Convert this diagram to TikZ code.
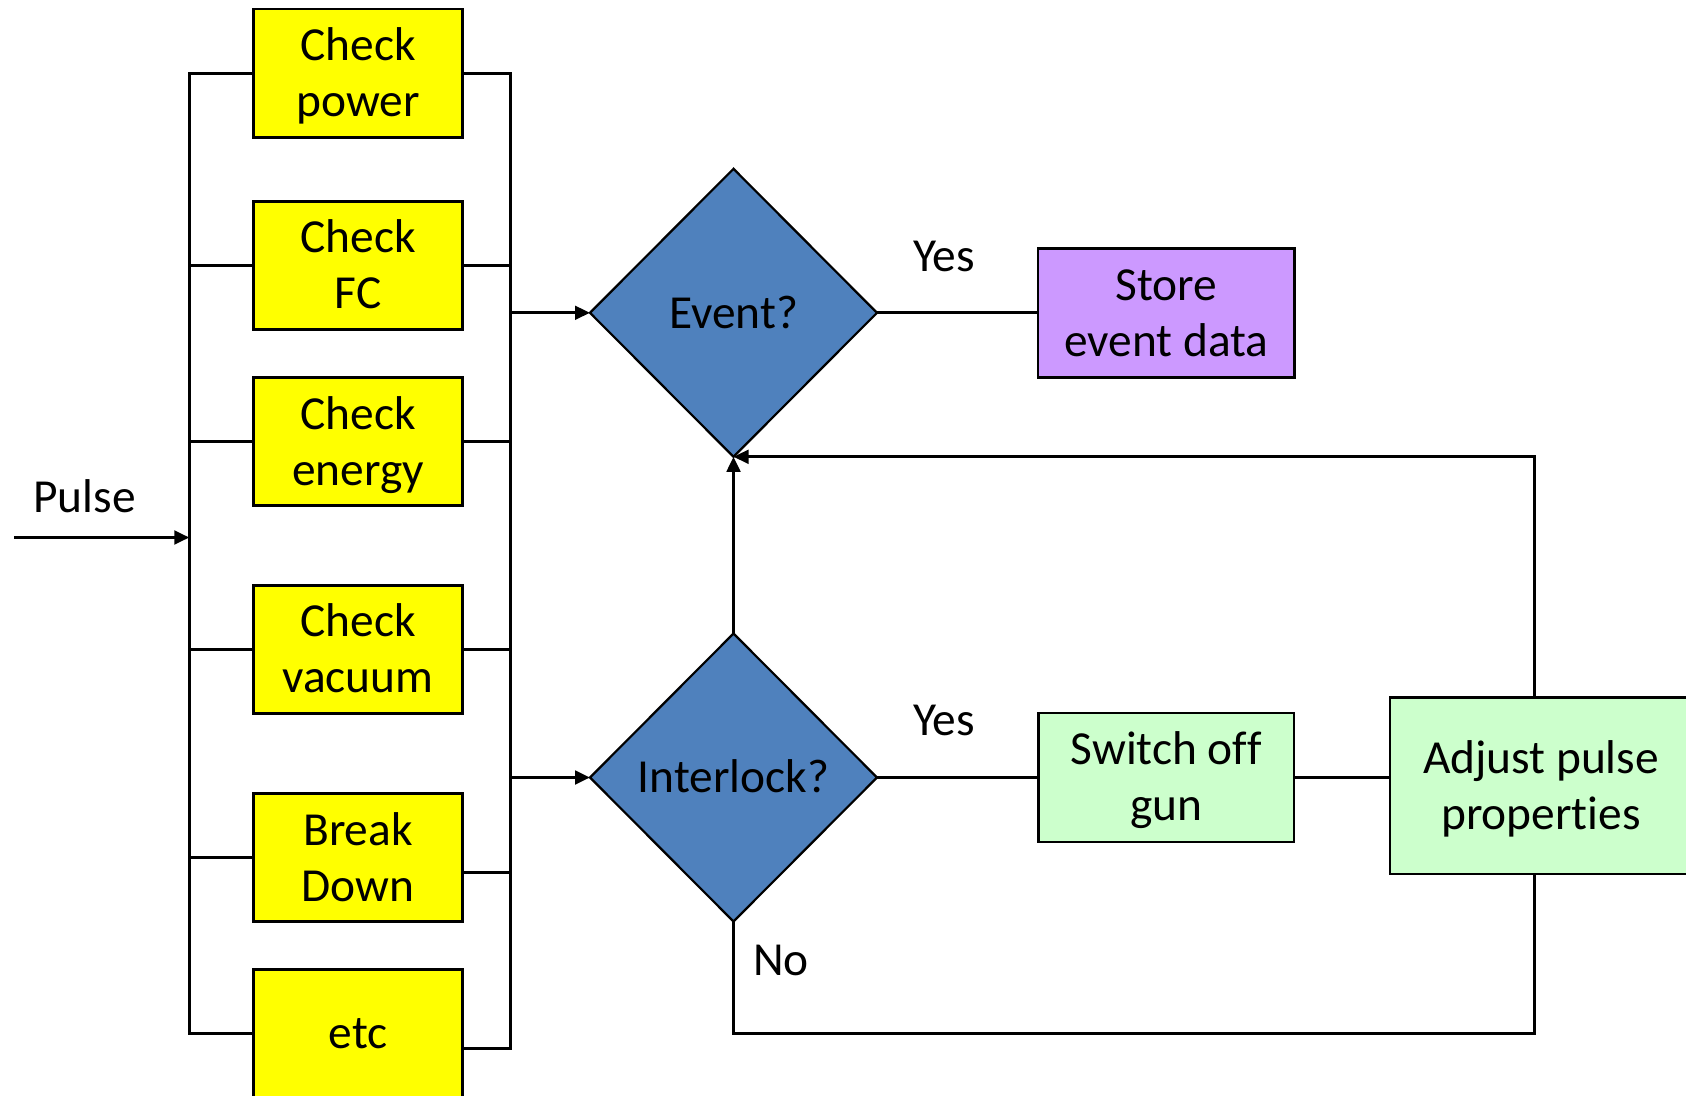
\documentclass[tikz,border=0pt]{standalone}
\usepackage{fontspec}
\setmainfont{Carlito}[Ligatures={NoCommon,NoContextual}]
\usetikzlibrary{shapes.geometric,arrows.meta,calc}
\definecolor{chkyellow}{HTML}{FFFF00}
\definecolor{decblue}{HTML}{4F81BD}
\definecolor{storepurple}{HTML}{CC99FF}
\definecolor{actgreen}{HTML}{CCFFCC}
% line box of one text line (ascent + descent)
\newcommand{\mystrut}{\rule[-6.3pt]{0pt}{28pt}}

\begin{document}
\begin{tikzpicture}[x=0.5pt,y=-0.5pt,
  txt/.style={font=\fontsize{23.7pt}{28pt}\selectfont, inner sep=0pt, outer sep=0pt, align=center},
  box/.style={txt, draw, line width=1.4pt, minimum width=#1},
  chk/.style={box=104.75pt, fill=chkyellow, minimum height=64.25pt},
  dec/.style={txt, shape=diamond, draw, line width=1.1pt, fill=decblue,
              minimum width=143.5pt, minimum height=144pt},
  ln/.style={line width=1.5pt},
  arr/.style={ln, -{Triangle[length=7.5pt,width=6.8pt]}},
  lbl/.style={txt, anchor=base}
]
\useasboundingbox (0,0) rectangle (1686,1096);
\fill[white] (0,0) rectangle (1686,1096);
\clip (0,0) rectangle (1686,1096);

% checks run in parallel
\node[chk] (pw) at (358,73.3)   {\mystrut Check\\\mystrut power};
\node[chk] (fc) at (358,265.5)  {\mystrut Check\\\mystrut FC};
\node[chk] (en) at (358,441.6)  {\mystrut Check\\\mystrut energy};
\node[chk] (va) at (358,649.4)  {\mystrut Check\\\mystrut vacuum};
\node[chk] (bd) at (358,857.6)  {\mystrut Break\\\mystrut Down};
\node[chk] (et) at (358,1033.5) {\mystrut etc};

% decisions
\node[dec] (ev) at (733.5,312.8) {\mystrut Event?};
\node[dec] (il) at (733.5,777.5) {\mystrut Interlock?};

% actions
\node[box=128.25pt, fill=storepurple, minimum height=64.5pt] (st) at (1166.3,312.8)
  {\mystrut Store\\\mystrut event data};
\node[box=127.75pt, fill=actgreen, minimum height=64.5pt] (sw) at (1166.3,777.5)
  {\mystrut Switch of\kern0pt f\\\mystrut gun};
\node[box=151pt, fill=actgreen, minimum height=88.35pt] (adj) at (1541,785.6)
  {\mystrut Adjust pulse\\\mystrut propert\kern0pt ies};

% input and output buses
\coordinate (lbB) at (189.3,1033.5);
\coordinate (rbB) at (510.5,1048.9);
\coordinate (bdR) at ($(bd.east)+(0,15.2)$);
\coordinate (etR) at ($(et.east)+(0,15.4)$);
\draw[ln] (pw.west) -| (lbB) -- (et.west);
\foreach \b in {fc,en,va,bd} \draw[ln] (\b.west) -- (\b.west -| lbB);
\draw[ln] (pw.east) -| (rbB) -- (etR);
\foreach \b in {fc,en,va} \draw[ln] (\b.east) -- (\b.east -| rbB);
\draw[ln] (bdR) -- (bdR -| rbB);

% pulse input
\coordinate (pin) at (14,537.5);
\draw[arr] (pin) -- (pin -| lbB);
\node[lbl] (pl) at (84.5,512.5) {Pulse};

% into the decisions
\draw[arr] (ev.west -| rbB) -- (ev.west);
\draw[arr] (il.west -| rbB) -- (il.west);

% yes branches
\draw[ln] (ev.east) -- (st.west);
\draw[ln] (il.east) -- (sw.west);
\draw[ln] (sw.east) -- (sw.east -| adj.west);
\node[lbl] (y1) at (944,271.7) {Yes};
\node[lbl] (y2) at (944,735) {Yes};

% no branch and feedback loops
\draw[arr] (il.north) -- (ev.south);
\coordinate (fbx) at (1534,0);
\coordinate (bot) at (733.5,1033.3);
\draw[arr] (adj.north -| fbx) |- (ev.south);
\draw[ln] (adj.south -| fbx) |- (bot) -- (il.south);
\node[lbl] (no) at (781,975) {No};
\end{tikzpicture}
\end{document}
